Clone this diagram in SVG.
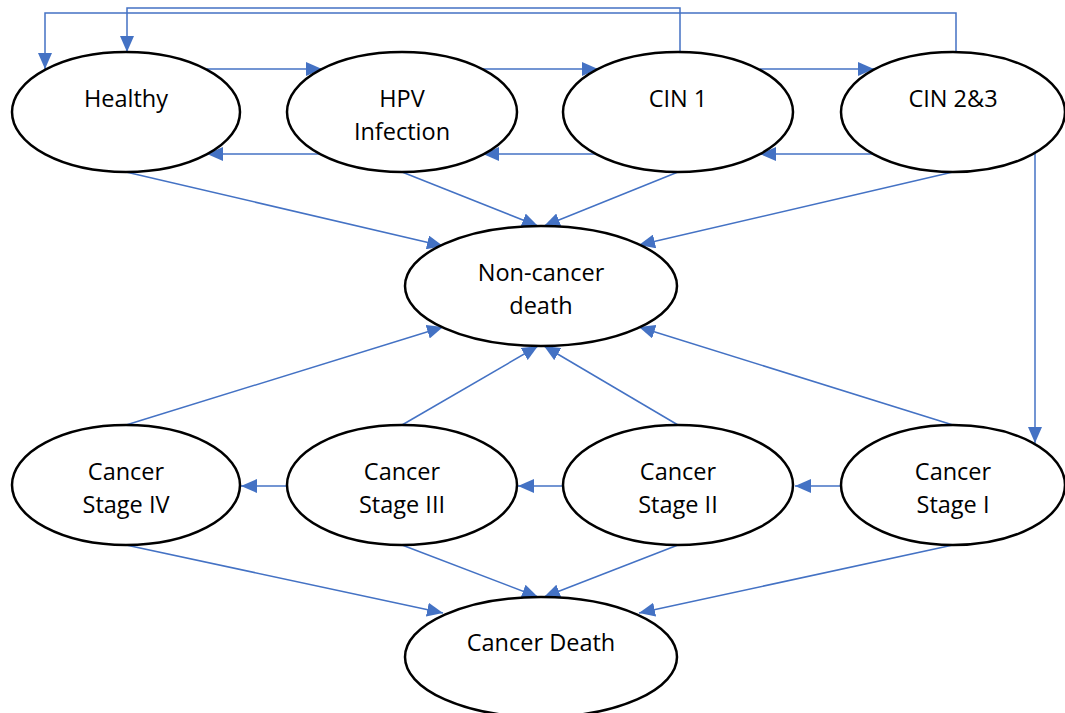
<svg xmlns="http://www.w3.org/2000/svg" width="1065" height="713" viewBox="0 0 1065 713">
  <style>
    .node ellipse { fill: #ffffff; stroke: #000000; stroke-width: 2.5; }
    .node text { font-family: "Open Sans", "Noto Sans", sans-serif; font-size: 23.5px; fill: #000000; text-anchor: middle; }
    #connectors path { fill: none; stroke: #4472C4; stroke-width: 1.5; marker-end: url(#arrow); }
  </style>
  <defs>
    <marker id="arrow" markerUnits="userSpaceOnUse" markerWidth="16" markerHeight="14" refX="16" refY="7" orient="auto">
      <path d="M0,0 L16,7 L0,14 Z" fill="#4472C4"/>
    </marker>
  </defs>

  <rect width="1065" height="713" fill="#ffffff"/>

  <!-- transitions -->
  <g id="connectors">
    <!-- forward progression, top row -->
    <path d="M207,69 L322,69"/>
    <path d="M483,69 L598,69"/>
    <path d="M760,69 L874,69"/>
    <!-- regression, top row -->
    <path d="M322,154 L207,154"/>
    <path d="M598,154 L483,154"/>
    <path d="M874,154 L760,154"/>
    <!-- clearance loops back to Healthy -->
    <path d="M680,52 L680,8 L127,8 L127,52"/>
    <path d="M956,52 L956,13 L45,13 L45,69"/>
    <!-- CIN 2&3 to Cancer Stage I -->
    <path d="M1035,154 L1035,443"/>
    <!-- to Non-cancer death -->
    <path d="M126,172 L443,246"/>
    <path d="M402,172 L538,226"/>
    <path d="M678,172 L544,226"/>
    <path d="M953,172 L639,245"/>
    <path d="M126,425 L443,327"/>
    <path d="M402,425 L538,346"/>
    <path d="M678,425 L544,346"/>
    <path d="M953,425 L639,327"/>
    <!-- cancer stage progression -->
    <path d="M840,486 L795,486"/>
    <path d="M564,486 L518,486"/>
    <path d="M288,486 L241,486"/>
    <!-- to Cancer Death -->
    <path d="M126,545 L443,613"/>
    <path d="M402,545 L538,597"/>
    <path d="M678,545 L544,597"/>
    <path d="M953,545 L639,613"/>
  </g>

  <g id="healthy" class="node">
    <ellipse cx="126" cy="112" rx="114" ry="60"/>
    <text x="126" y="107">Healthy</text>
  </g>
  <g id="hpv-infection" class="node">
    <ellipse cx="402" cy="112" rx="115" ry="60"/>
    <text x="402" y="107">HPV</text>
    <text x="402" y="140">Infection</text>
  </g>
  <g id="cin1" class="node">
    <ellipse cx="678" cy="112" rx="115" ry="60"/>
    <text x="678" y="107">CIN 1</text>
  </g>
  <g id="cin23" class="node">
    <ellipse cx="953" cy="112" rx="112" ry="60"/>
    <text x="953" y="107">CIN 2&amp;3</text>
  </g>
  <g id="non-cancer-death" class="node">
    <ellipse cx="541" cy="286" rx="136" ry="60"/>
    <text x="541" y="281">Non-cancer</text>
    <text x="541" y="314">death</text>
  </g>
  <g id="cancer-stage-iv" class="node">
    <ellipse cx="126" cy="485" rx="114" ry="60"/>
    <text x="126" y="480">Cancer</text>
    <text x="126" y="513">Stage IV</text>
  </g>
  <g id="cancer-stage-iii" class="node">
    <ellipse cx="402" cy="485" rx="115" ry="60"/>
    <text x="402" y="480">Cancer</text>
    <text x="402" y="513">Stage III</text>
  </g>
  <g id="cancer-stage-ii" class="node">
    <ellipse cx="678" cy="485" rx="115" ry="60"/>
    <text x="678" y="480">Cancer</text>
    <text x="678" y="513">Stage II</text>
  </g>
  <g id="cancer-stage-i" class="node">
    <ellipse cx="953" cy="485" rx="112" ry="60"/>
    <text x="953" y="480">Cancer</text>
    <text x="953" y="513">Stage I</text>
  </g>
  <g id="cancer-death" class="node">
    <ellipse cx="541" cy="657" rx="136" ry="60"/>
    <text x="541" y="651">Cancer Death</text>
  </g>
</svg>
